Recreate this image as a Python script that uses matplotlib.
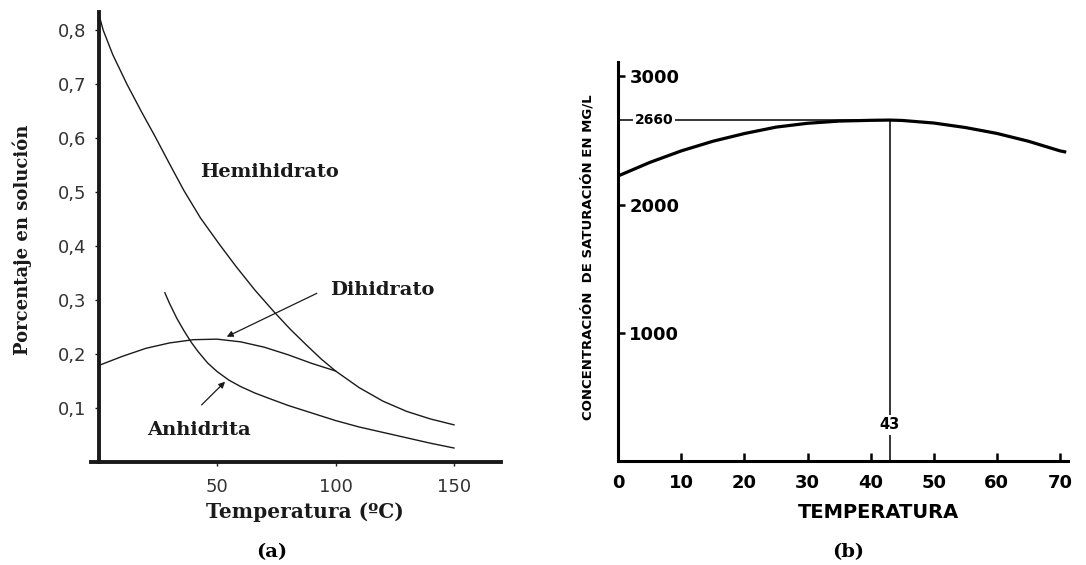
#!/usr/bin/env python3
# yeso_solubilidad.py

import matplotlib
matplotlib.use("Agg")
import matplotlib.pyplot as plt

# (a) solubilidad de las fases del sulfato de calcio
hemi_t = [0, 2, 6, 12, 18, 24, 30, 36, 43, 51, 58, 66, 74, 81, 88, 94, 100,
          110, 120, 130, 140, 150]
hemi_p = [0.832, 0.80, 0.755, 0.70, 0.650, 0.602, 0.552, 0.503, 0.452, 0.403,
          0.362, 0.318, 0.278, 0.245, 0.215, 0.19, 0.168, 0.137, 0.112, 0.093,
          0.079, 0.068]

dihi_t = [0, 10, 20, 30, 40, 50, 60, 70, 80, 90, 100]
dihi_p = [0.178, 0.195, 0.210, 0.220, 0.226, 0.227, 0.222, 0.212, 0.198,
          0.182, 0.168]

anhi_t = [28, 30, 33, 36, 39, 42, 46, 50, 55, 60, 66, 72, 80, 90, 100, 110,
          120, 130, 140, 150]
anhi_p = [0.313, 0.293, 0.266, 0.243, 0.222, 0.204, 0.183, 0.167, 0.151,
          0.139, 0.127, 0.117, 0.104, 0.090, 0.076, 0.064, 0.054, 0.044,
          0.034, 0.025]

a_xticks = [50, 100, 150]
a_yticks = [0.1, 0.2, 0.3, 0.4, 0.5, 0.6, 0.7, 0.8]
a_yticklabels = ["0,1", "0,2", "0,3", "0,4", "0,5", "0,6", "0,7", "0,8"]

# (b) concentracion de saturacion del yeso en agua
sat_t = [0, 5, 10, 15, 20, 25, 30, 35, 40, 43, 45, 50, 55, 60, 65, 70, 71]
sat_c = [2225, 2330, 2420, 2495, 2555, 2605, 2635, 2652, 2658, 2660, 2657,
         2637, 2602, 2556, 2495, 2420, 2410]

max_t = 43
max_c = 2660

b_xticks = [0, 10, 20, 30, 40, 50, 60, 70]
b_yticks = [1000, 2000, 3000]

W, H = 1086, 565
ink = "#1a1a1a"
serif = "DejaVu Serif"
sans = "DejaVu Sans"


def px_axes(fig, left, top, right, bottom):
    return fig.add_axes([left / W, 1 - bottom / H, (right - left) / W,
                         (bottom - top) / H])


def plot_phases(ax):
    ax.set_xlim(-3, 170)
    ax.set_ylim(0, 0.834)
    for s in ["top", "right"]:
        ax.spines[s].set_visible(False)
    ax.spines["left"].set_position(("data", 0))
    for s in ["left", "bottom"]:
        ax.spines[s].set_linewidth(2.8)
        ax.spines[s].set_color(ink)

    ax.plot(hemi_t, hemi_p, color=ink, lw=1.0)
    ax.plot(dihi_t, dihi_p, color=ink, lw=1.0)
    ax.plot(anhi_t, anhi_p, color=ink, lw=1.0)

    ax.set_xticks(a_xticks)
    ax.set_yticks(a_yticks)
    ax.set_yticklabels(a_yticklabels)
    ax.tick_params(axis="both", direction="out", length=3, width=1,
                   color=ink, labelsize=13, labelcolor="#333333")
    ax.tick_params(axis="y", pad=6)
    ax.tick_params(axis="x", pad=9)
    for lab in ax.get_xticklabels() + ax.get_yticklabels():
        lab.set_family(sans)

    txt = dict(family=serif, weight="bold", fontsize=14, color=ink,
               ha="left", va="center")
    ax.text(42.8, 0.537, "Hemihidrato", **txt)
    ax.text(97.7, 0.318, "Dihidrato", **txt)
    ax.text(20.5, 0.058, "Anhidrita", **txt)

    arrow = dict(arrowstyle="-|>", lw=0.9, color=ink, mutation_scale=9,
                 shrinkA=0, shrinkB=0)
    ax.annotate("", xy=(54.1, 0.2315), xytext=(92.1, 0.312),
                arrowprops=arrow)
    ax.annotate("", xy=(53.4, 0.148), xytext=(43.5, 0.105),
                arrowprops=arrow)

    ax.set_xlabel("Temperatura (ºC)", family=serif, weight="bold",
                  fontsize=14.5, color=ink, va="center")
    ax.xaxis.set_label_coords((305 - 91.4) / 410, -(512 - 461.5) / 449.5)


def plot_saturation(ax):
    ax.set_xlim(0, 71.2)
    ax.set_ylim(0, 3115)
    for s in ["top", "right"]:
        ax.spines[s].set_visible(False)
    for s in ["left", "bottom"]:
        ax.spines[s].set_linewidth(2.2)
        ax.spines[s].set_color("black")

    ax.plot(sat_t, sat_c, color="black", lw=2.3, solid_capstyle="butt")
    ax.plot([0, max_t], [max_c, max_c], color="black", lw=1.1)
    ax.plot([max_t, max_t], [0, max_c], color="black", lw=1.1)

    box = dict(facecolor="white", edgecolor="none", pad=1.5)
    ax.text(2.6, max_c, str(max_c), family=sans, weight="bold", fontsize=10,
            ha="left", va="center", bbox=box)
    ax.text(max_t, 283, str(max_t), family=sans, weight="bold",
            fontsize=10.5, ha="center", va="center", bbox=box)

    ax.set_xticks(b_xticks)
    ax.set_yticks(b_yticks)
    ax.tick_params(axis="x", direction="in", length=6, width=1.8, pad=9,
                   labelsize=13)
    ax.tick_params(axis="y", direction="in", length=5, width=1.8, pad=-8,
                   labelsize=13)
    for lab in ax.get_xticklabels() + ax.get_yticklabels():
        lab.set_family(sans)
        lab.set_weight("bold")
    for lab in ax.get_yticklabels():
        lab.set_horizontalalignment("left")

    ax.set_xlabel("TEMPERATURA", family=sans, weight="bold", fontsize=14,
                  va="center")
    ax.xaxis.set_label_coords((878 - 618.3) / 449.2, -(512 - 461.3) / 399.6)


def main():
    fig = plt.figure(figsize=(W / 100, H / 100), dpi=100)
    fig.patch.set_facecolor("white")

    ax_a = px_axes(fig, 91.4, 12, 501.4, 461.5)
    plot_phases(ax_a)

    ax_b = px_axes(fig, 618.3, 61.7, 1067.5, 461.3)
    plot_saturation(ax_b)

    fig.text(22 / W, 1 - 240 / H, "Porcentaje en solución", family=serif,
             weight="bold", fontsize=13, rotation=90, ha="center",
             va="center", color=ink)
    fig.text(588 / W, 1 - 257 / H, "CONCENTRACIÓN  DE SATURACIÓN EN MG/L",
             family=sans, weight="bold", fontsize=9.5, rotation=90,
             ha="center", va="center")

    fig.text(272 / W, 1 - 552 / H, "(a)", family=serif, weight="bold",
             fontsize=14, ha="center", va="center")
    fig.text(848 / W, 1 - 552 / H, "(b)", family=serif, weight="bold",
             fontsize=14, ha="center", va="center")

    fig.savefig("out.png", dpi=100)


if __name__ == "__main__":
    main()
